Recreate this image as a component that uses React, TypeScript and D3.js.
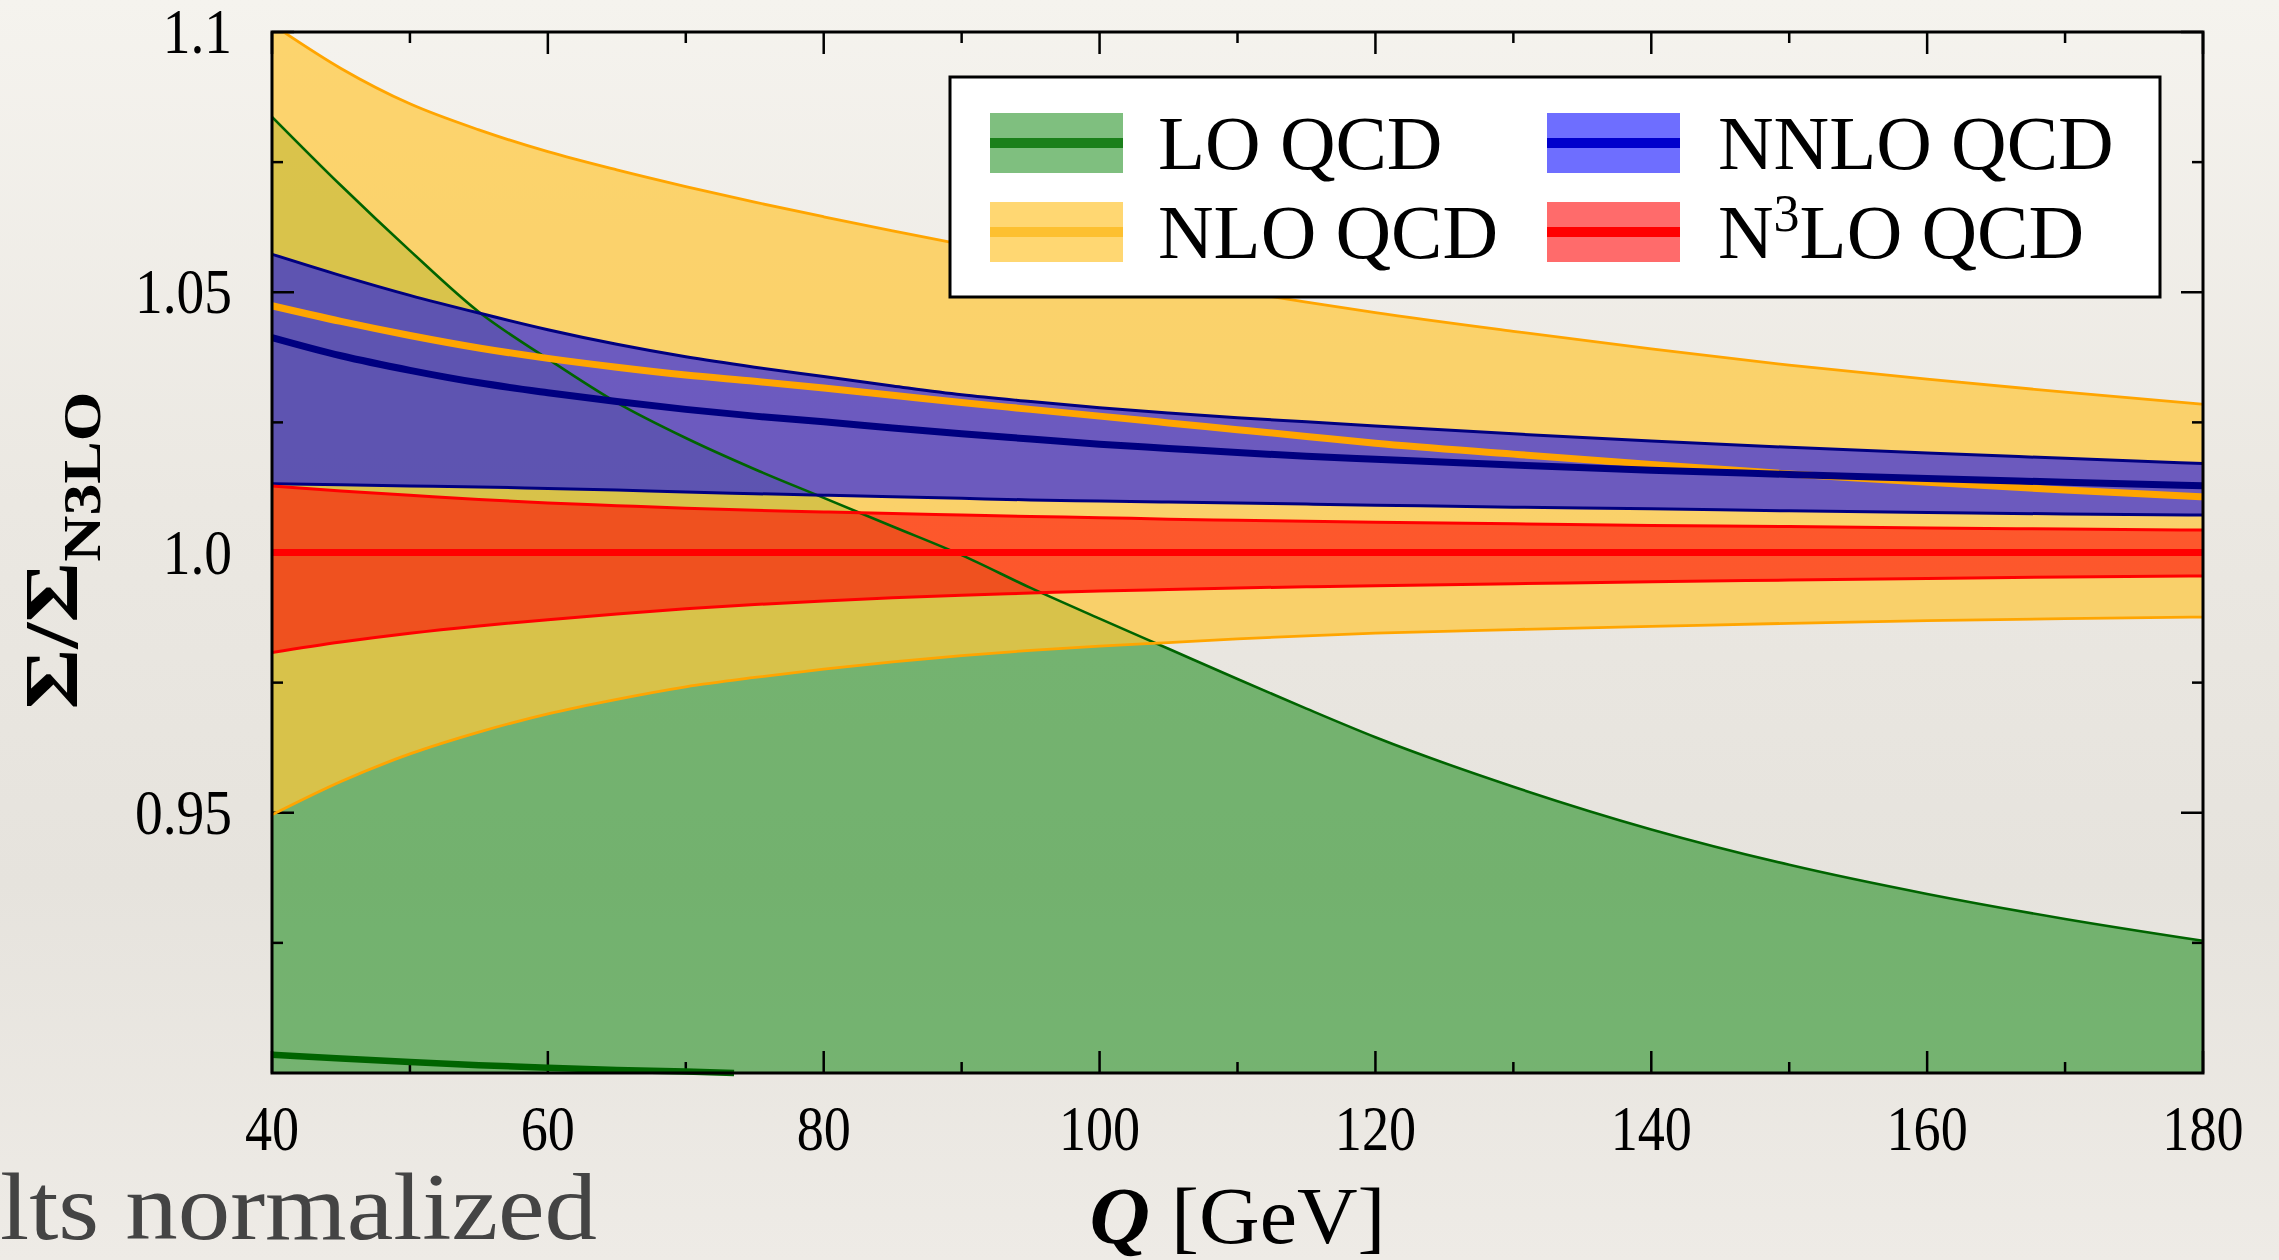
import React, { useEffect } from "react";
import * as d3 from "d3";

// ---------------- data ----------------
const Q = [40, 45, 50, 55, 60, 65, 70, 75, 80, 85, 90, 95, 100, 105, 110, 115, 120, 130, 140, 150, 160, 170, 180];

const loUpper = [1.0837, 1.0705, 1.058, 1.0462, 1.0372, 1.0288, 1.022, 1.016, 1.0105, 1.005, 0.9995, 0.9932, 0.9873, 0.9815, 0.9757, 0.97, 0.9645, 0.955, 0.9468, 0.94, 0.9344, 0.9296, 0.9254];
const loLower = [0.862, 0.858, 0.855, 0.852, 0.85, 0.848, 0.846, 0.845, 0.844, 0.843, 0.842, 0.841, 0.84, 0.839, 0.838, 0.837, 0.836, 0.835, 0.834, 0.833, 0.832, 0.831, 0.83];
const loCentralQ = [40, 45, 50, 55, 60, 65, 70, 73.5];
const loCentral = [0.9035, 0.9028, 0.9021, 0.9015, 0.901, 0.9006, 0.9003, 0.9];

const nloUpper = [1.1015, 1.093, 1.0862, 1.0812, 1.077, 1.0735, 1.0703, 1.0673, 1.0645, 1.0618, 1.0592, 1.0568, 1.0545, 1.0523, 1.0502, 1.0481, 1.0461, 1.0425, 1.0391, 1.036, 1.0333, 1.0308, 1.0285];
const nloCentral = [1.0474, 1.0444, 1.0417, 1.0393, 1.0373, 1.0356, 1.0341, 1.0329, 1.0316, 1.0302, 1.0288, 1.0275, 1.0262, 1.0249, 1.0236, 1.0223, 1.021, 1.0189, 1.0169, 1.0151, 1.0135, 1.012, 1.0107];
const nloLower = [0.9496, 0.956, 0.9613, 0.9655, 0.969, 0.9718, 0.9742, 0.976, 0.9776, 0.979, 0.9802, 0.9812, 0.982, 0.9827, 0.9834, 0.984, 0.9845, 0.9852, 0.9858, 0.9864, 0.9869, 0.9873, 0.9876];

const nnloUpper = [1.0573, 1.0532, 1.0494, 1.046, 1.0428, 1.04, 1.0376, 1.0356, 1.0338, 1.032, 1.0303, 1.029, 1.0278, 1.0268, 1.0259, 1.0251, 1.0243, 1.0228, 1.0214, 1.0202, 1.0191, 1.0181, 1.0171];
const nnloCentral = [1.0413, 1.0378, 1.035, 1.0326, 1.0307, 1.029, 1.0275, 1.0262, 1.0251, 1.0239, 1.0228, 1.0218, 1.0208, 1.02, 1.0192, 1.0185, 1.0179, 1.0168, 1.0158, 1.015, 1.0142, 1.0135, 1.0128];
const nnloLower = [1.0132, 1.013, 1.0128, 1.0126, 1.0123, 1.012, 1.0116, 1.0113, 1.011, 1.0107, 1.0104, 1.0101, 1.0099, 1.0097, 1.0095, 1.0093, 1.0091, 1.0087, 1.0084, 1.008, 1.0077, 1.0074, 1.0072];

const n3loUpper = [1.0128, 1.0118, 1.011, 1.0102, 1.0095, 1.009, 1.0085, 1.0081, 1.0078, 1.0075, 1.0072, 1.0069, 1.0067, 1.0064, 1.0062, 1.006, 1.0058, 1.0055, 1.0052, 1.005, 1.0047, 1.0045, 1.0043];
const n3loCentral = [1, 1, 1, 1, 1, 1, 1, 1, 1, 1, 1, 1, 1, 1, 1, 1, 1, 1, 1, 1, 1, 1, 1];
const n3loLower = [0.9808, 0.9828, 0.9845, 0.9859, 0.9871, 0.9882, 0.9892, 0.99, 0.9907, 0.9913, 0.9918, 0.9922, 0.9926, 0.9929, 0.9932, 0.9934, 0.9936, 0.994, 0.9944, 0.9947, 0.995, 0.9953, 0.9955];

const xTicks = [40, 60, 80, 100, 120, 140, 160, 180];
const xMinorTicks = [50, 70, 90, 110, 130, 150, 170];
const yTicks = [0.95, 1.0, 1.05, 1.1];
const yTickLabels = ["0.95", "1.0", "1.05", "1.1"];
const yMinorTicks = [0.925, 0.975, 1.025, 1.075];

const seriesNames = ["LO QCD", "NLO QCD", "NNLO QCD", "N3LO QCD"];

// ---------------- layout ----------------
const W = 2279;
const H = 1260;
const L = 272;
const R = 2203;
const T = 32;
const B = 1073;
const FONT = "'Liberation Serif', 'DejaVu Serif', serif";

const x = d3.scaleLinear().domain([40, 180]).range([L, R]);
const y = d3.scaleLinear().domain([0.9, 1.1]).range([B, T]);

type Band = {
  name: string;
  upper: number[];
  lower: number[];
  central: number[];
  centralQ: number[];
  fill: string;
  line: string;
  legendLine: string;
  edgeW: number;
  drawUpper: boolean;
  drawLower: boolean;
  clipCentral: boolean;
};

const bands: Band[] = [
  { name: seriesNames[0], upper: loUpper, lower: loLower, central: loCentral, centralQ: loCentralQ, fill: "rgba(0,128,0,0.5)", line: "#006400", legendLine: "#1a801a", edgeW: 2.6, drawUpper: true, drawLower: false, clipCentral: false },
  { name: seriesNames[1], upper: nloUpper, lower: nloLower, central: nloCentral, centralQ: Q, fill: "rgba(255,200,60,0.72)", line: "#ffa500", legendLine: "#fdc030", edgeW: 2.8, drawUpper: true, drawLower: true, clipCentral: true },
  { name: seriesNames[2], upper: nnloUpper, lower: nnloLower, central: nnloCentral, centralQ: Q, fill: "rgba(0,0,255,0.57)", line: "#000080", legendLine: "#0000cc", edgeW: 3, drawUpper: true, drawLower: true, clipCentral: true },
  { name: seriesNames[3], upper: n3loUpper, lower: n3loLower, central: n3loCentral, centralQ: Q, fill: "rgba(255,0,0,0.58)", line: "#ff0000", legendLine: "#ff0000", edgeW: 3, drawUpper: true, drawLower: true, clipCentral: true },
];

function areaPath(upper: number[], lower: number[]) {
  const gen = d3
    .area<number>()
    .x((_, i) => x(Q[i]))
    .y0((_, i) => y(lower[i]))
    .y1((d) => y(d))
    .curve(d3.curveMonotoneX);
  return gen(upper) || "";
}

function linePath(qs: number[], vals: number[]) {
  const gen = d3
    .line<number>()
    .x((_, i) => x(qs[i]))
    .y((d) => y(d))
    .curve(d3.curveMonotoneX);
  return gen(vals) || "";
}

export default function App() {
  useEffect(() => {
    document.body.style.margin = "0";
    document.body.style.background = "#ebe8e2";
  }, []);

  const majorLen = 22;
  const minorLen = 11;

  // legend geometry
  const lg = { x: 950, y: 77, w: 1210, h: 220 };
  const rowsY = [143, 232];
  const colsX = [990, 1547];
  const swW = 133;
  const swH = 60;

  return (
    <svg width={W} height={H} viewBox={`0 0 ${W} ${H}`} style={{ display: "block" }} xmlns="http://www.w3.org/2000/svg">
      <defs>
        <linearGradient id="bg" x1="0" y1="0" x2="0" y2="1">
          <stop offset="0%" stopColor="#f5f3ee" />
          <stop offset="40%" stopColor="#ebe8e2" />
          <stop offset="70%" stopColor="#e6e3dd" />
          <stop offset="100%" stopColor="#eeebe6" />
        </linearGradient>
        <clipPath id="plotClip">
          <rect x={L} y={T} width={R - L} height={B - T} />
        </clipPath>
      </defs>
      <rect x={0} y={0} width={W} height={H} fill="url(#bg)" />

      {/* bands */}
      <g clipPath="url(#plotClip)">
        {bands.map((b) => (
          <path key={b.name + "-fill"} d={areaPath(b.upper, b.lower)} fill={b.fill} stroke="none" />
        ))}
      </g>

      {/* ticks */}
      <g stroke="#000" strokeWidth={2.5}>
        {xTicks.map((t) => (
          <g key={"xt" + t}>
            <line x1={x(t)} x2={x(t)} y1={B} y2={B - majorLen} />
            <line x1={x(t)} x2={x(t)} y1={T} y2={T + majorLen} />
          </g>
        ))}
        {xMinorTicks.map((t) => (
          <g key={"xm" + t}>
            <line x1={x(t)} x2={x(t)} y1={B} y2={B - minorLen} />
            <line x1={x(t)} x2={x(t)} y1={T} y2={T + minorLen} />
          </g>
        ))}
        {yTicks.map((t) => (
          <g key={"yt" + t}>
            <line x1={L} x2={L + majorLen} y1={y(t)} y2={y(t)} />
            <line x1={R} x2={R - majorLen} y1={y(t)} y2={y(t)} />
          </g>
        ))}
        {yMinorTicks.map((t) => (
          <g key={"ym" + t}>
            <line x1={L} x2={L + minorLen} y1={y(t)} y2={y(t)} />
            <line x1={R} x2={R - minorLen} y1={y(t)} y2={y(t)} />
          </g>
        ))}
      </g>

      {/* lines */}
      {bands.map((b) => (
        <g key={b.name + "-lines"} fill="none" stroke={b.line} strokeLinecap="butt">
          <g clipPath="url(#plotClip)">
            {b.drawUpper && <path d={linePath(Q, b.upper)} strokeWidth={b.edgeW} />}
            {b.drawLower && <path d={linePath(Q, b.lower)} strokeWidth={b.edgeW} />}
            {b.clipCentral && <path d={linePath(b.centralQ, b.central)} strokeWidth={7} />}
          </g>
          {!b.clipCentral && <path d={linePath(b.centralQ, b.central)} strokeWidth={6.5} />}
        </g>
      ))}

      {/* frame */}
      <rect x={L} y={T} width={R - L} height={B - T} fill="none" stroke="#000" strokeWidth={3} />

      {/* tick labels */}
      <g fontFamily={FONT} fontSize={63} fill="#000">
        {xTicks.map((t) => (
          <g key={"xl" + t} transform={`translate(${x(t)},${1150}) scale(0.86,1)`}>
            <text x={0} y={0} textAnchor="middle">{t}</text>
          </g>
        ))}
        {yTicks.map((t, i) => (
          <g key={"yl" + t} transform={`translate(${232},${y(t) + 21}) scale(0.88,1)`}>
            <text x={0} y={0} textAnchor="end">{yTickLabels[i]}</text>
          </g>
        ))}
      </g>

      {/* axis labels */}
      <text
        x={(L + R) / 2}
        y={1243}
        textAnchor="middle"
        fontFamily={FONT}
        fontSize={80}
        fill="#000"
        textLength={296}
        lengthAdjust="spacingAndGlyphs"
      >
        <tspan fontWeight="bold" fontStyle="italic">Q</tspan>
        <tspan> [GeV]</tspan>
      </text>
      <text
        transform={`translate(${77},${(T + B) / 2 - 2}) rotate(-90)`}
        textAnchor="middle"
        fontFamily={FONT}
        fontWeight="bold"
        fontSize={76}
        fill="#000"
        textLength={318}
        lengthAdjust="spacingAndGlyphs"
      >
        <tspan>Σ/Σ</tspan>
        <tspan fontSize={52} dy={23}>N3LO</tspan>
      </text>

      {/* legend */}
      <rect x={lg.x} y={lg.y} width={lg.w} height={lg.h} fill="#fff" stroke="#000" strokeWidth={3} />
      {bands.map((b, i) => {
        const cx = colsX[Math.floor(i / 2)];
        const cy = rowsY[i % 2];
        return (
          <g key={b.name + "-legend"}>
            <rect x={cx} y={cy - swH / 2} width={swW} height={swH} fill={b.fill} />
            <rect x={cx} y={cy - 5} width={swW} height={10} fill={b.legendLine} />
          </g>
        );
      })}
      <g fontFamily={FONT} fontSize={77} fill="#000">
        <text x={colsX[0] + 168} y={rowsY[0] + 26}>{seriesNames[0]}</text>
        <text x={colsX[0] + 168} y={rowsY[1] + 26}>{seriesNames[1]}</text>
        <text x={colsX[1] + 171} y={rowsY[0] + 26}>{seriesNames[2]}</text>
        <text x={colsX[1] + 171} y={rowsY[1] + 26}>
          <tspan>N</tspan>
          <tspan fontSize={52} dy={-27}>3</tspan>
          <tspan dy={27}>LO QCD</tspan>
        </text>
      </g>

      {/* slide text fragment */}
      <text
        x={0}
        y={1239}
        fontFamily={FONT}
        fontSize={96}
        fill="#444"
        textLength={597}
        lengthAdjust="spacingAndGlyphs"
      >
        lts normalized
      </text>
    </svg>
  );
}
